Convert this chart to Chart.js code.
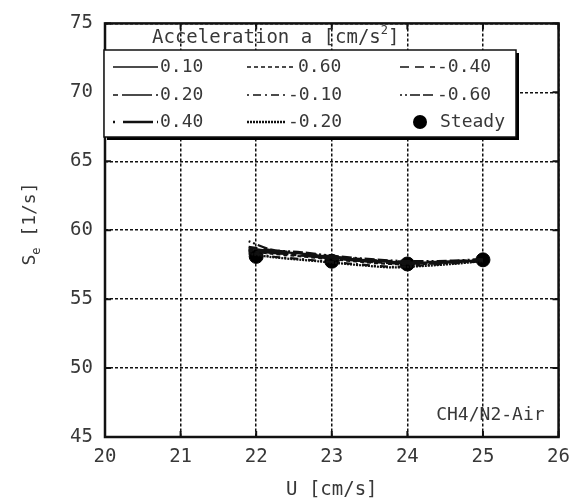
<!DOCTYPE html>
<html>
<head>
<meta charset="utf-8">
<script src="https://cdn.jsdelivr.net/npm/chart.js@4.4.1/dist/chart.umd.min.js"></script>
<style>
  html, body { margin: 0; padding: 0; background: #fff; }
  #wrap { width: 579px; height: 504px; }
</style>
</head>
<body>
<div id="wrap"><canvas id="seChart" width="579" height="504"></canvas></div>
<script>
// U [cm/s] sample points of the unsteady runs
var uValues = [21.9, 22.2, 22.6, 23.0, 23.4, 23.8, 24.2, 24.6, 25.0];

// Se [1/s] per acceleration (legend order, row by row)
var accelLabels = ["0.10", "0.60", "-0.40", "0.20", "-0.10", "-0.60", "0.40", "-0.20"];
var se_p010 = [58.7, 58.5, 58.3, 58.05, 57.85, 57.7, 57.65, 57.7, 57.85];
var se_p060 = [58.5, 58.3, 58.1, 57.9, 57.7, 57.55, 57.55, 57.65, 57.8];
var se_m040 = [58.8, 58.55, 58.35, 58.1, 57.9, 57.75, 57.7, 57.75, 57.9];
var se_p020 = [58.6, 58.4, 58.15, 57.95, 57.75, 57.6, 57.6, 57.7, 57.85];
var se_m010 = [58.4, 58.1, 57.9, 57.7, 57.5, 57.35, 57.45, 57.6, 57.75];
var se_m060 = [59.2, 58.6, 58.4, 58.15, 57.95, 57.8, 57.75, 57.8, 57.9];
var se_p040 = [58.55, 58.35, 58.2, 58.0, 57.8, 57.65, 57.6, 57.7, 57.85];
var se_m020 = [58.3, 58.05, 57.85, 57.65, 57.45, 57.3, 57.4, 57.55, 57.75];

// steady flames
var steadyU = [22, 23, 24, 25];
var steadySe = [58.1, 57.75, 57.55, 57.85];

var xTicks = [20, 21, 22, 23, 24, 25, 26];
var yTicks = [45, 50, 55, 60, 65, 70, 75];

var seriesValues = [se_p010, se_p060, se_m040, se_p020, se_m010, se_m060, se_p040, se_m020];
var dashes = [[], [4, 3], [9, 6], [5, 4, 30, 4], [2, 4, 8, 4], [2, 3, 2, 3, 10, 3, 10, 3], [2, 8, 30, 4], [2, 1]];
var widths = [1.5, 1.5, 1.5, 1.5, 1.5, 1.5, 2.5, 2.5];

var mono = "'DejaVu Sans Mono', monospace";
var ink = "#111";
var txt = "#383838";

var datasets = accelLabels.map(function (lab, i) {
  return {
    label: lab,
    data: uValues.map(function (u, j) { return { x: u, y: seriesValues[i][j] }; }),
    borderColor: ink,
    borderWidth: 2.2,
    borderDash: dashes[i],
    legendWidth: widths[i],
    pointRadius: 0,
    fill: false,
    tension: 0.3
  };
});
datasets.push({
  label: "Steady",
  data: steadyU.map(function (u, j) { return { x: u, y: steadySe[j] }; }),
  showLine: false,
  pointRadius: 7,
  pointBackgroundColor: "#000",
  pointBorderColor: "#000"
});

var decor = {
  id: "decor",
  beforeDatasetsDraw: function (chart) {
    // solid frame and inward tick marks
    var ctx = chart.ctx, a = chart.chartArea;
    var xs = chart.scales.x, ys = chart.scales.y;
    ctx.save();
    ctx.strokeStyle = ink;
    ctx.setLineDash([]);
    ctx.lineWidth = 2.5;
    ctx.strokeRect(a.left, a.top, a.right - a.left, a.bottom - a.top);
    ctx.lineWidth = 2;
    xTicks.forEach(function (v) {
      var px = xs.getPixelForValue(v);
      ctx.beginPath();
      ctx.moveTo(px, a.bottom); ctx.lineTo(px, a.bottom - 6);
      ctx.moveTo(px, a.top); ctx.lineTo(px, a.top + 6);
      ctx.stroke();
    });
    yTicks.forEach(function (v) {
      var py = ys.getPixelForValue(v);
      ctx.beginPath();
      ctx.moveTo(a.left, py); ctx.lineTo(a.left + 6, py);
      ctx.moveTo(a.right, py); ctx.lineTo(a.right - 6, py);
      ctx.stroke();
    });
    ctx.restore();
  },
  afterDraw: function (chart) {
    var ctx = chart.ctx, a = chart.chartArea;
    ctx.save();
    ctx.fillStyle = txt;
    ctx.textBaseline = "middle";

    // title above legend
    ctx.font = "19px " + mono;
    ctx.textAlign = "left";
    var t1 = "Acceleration a [cm/s";
    ctx.fillText(t1, 152, 38);
    var w1 = ctx.measureText(t1).width;
    ctx.font = "12px " + mono;
    ctx.fillText("2", 152 + w1, 31);
    var w2 = ctx.measureText("2").width;
    ctx.font = "19px " + mono;
    ctx.fillText("]", 152 + w1 + w2, 38);

    // legend box with shadow
    var bx = 104, by = 50, bw = 412, bh = 87;
    ctx.fillStyle = "#000";
    ctx.fillRect(bx + 3, by + 3, bw, bh);
    ctx.fillStyle = "#fff";
    ctx.fillRect(bx, by, bw, bh);
    ctx.strokeStyle = ink;
    ctx.lineWidth = 1.5;
    ctx.strokeRect(bx, by, bw, bh);

    var rowY = [67, 95, 122];
    var lineStart = [113, 247, 400];
    var textCol = [150, 288, 437];
    var charW = 10;
    ctx.font = "18px " + mono;
    chart.data.datasets.forEach(function (ds, i) {
      var r = Math.floor(i / 3), c = i % 3;
      var y = rowY[r];
      if (ds.label === "Steady") {
        ctx.fillStyle = "#000";
        ctx.beginPath();
        ctx.arc(420, y, 7, 0, Math.PI * 2);
        ctx.fill();
        ctx.fillStyle = txt;
        ctx.fillText(ds.label, 440, y);
        return;
      }
      var tx = textCol[c] + (ds.label.charAt(0) === "-" ? 0 : charW);
      ctx.strokeStyle = ink;
      ctx.lineWidth = ds.legendWidth;
      ctx.setLineDash(ds.borderDash);
      ctx.beginPath();
      ctx.moveTo(lineStart[c], y);
      ctx.lineTo(tx - 2, y);
      ctx.stroke();
      ctx.setLineDash([]);
      ctx.fillStyle = txt;
      ctx.fillText(ds.label, tx, y);
    });

    // mixture label
    ctx.font = "18px " + mono;
    ctx.textAlign = "right";
    ctx.fillStyle = txt;
    ctx.fillText("CH4/N2-Air", a.right - 14, 415);

    // axis titles
    ctx.font = "19px " + mono;
    ctx.textAlign = "center";
    ctx.fillText("U [cm/s]", (a.left + a.right) / 2, 490);

    ctx.translate(30, 224);
    ctx.rotate(-Math.PI / 2);
    ctx.font = "18px " + mono;
    ctx.textAlign = "left";
    var sW = ctx.measureText("S").width;
    ctx.font = "12px " + mono;
    var eW = ctx.measureText("e").width;
    ctx.font = "18px " + mono;
    var rest = " [1/s]";
    var rW = ctx.measureText(rest).width;
    var x0 = -(sW + eW + rW) / 2;
    ctx.fillText("S", x0, 0);
    ctx.font = "12px " + mono;
    ctx.fillText("e", x0 + sW, 7);
    ctx.font = "18px " + mono;
    ctx.fillText(rest, x0 + sW + eW, 0);
    ctx.restore();
  }
};

var ctx = document.getElementById("seChart").getContext("2d");
new Chart(ctx, {
  type: "line",
  data: { datasets: datasets },
  options: {
    responsive: false,
    animation: false,
    layout: { padding: { top: 18, right: 19, left: 0, bottom: 0 } },
    plugins: { legend: { display: false }, tooltip: { enabled: false } },
    scales: {
      x: {
        type: "linear",
        min: 20, max: 26,
        afterBuildTicks: function (s) { s.ticks = xTicks.map(function (v) { return { value: v }; }); },
        afterFit: function (s) { s.height = 67; },
        grid: { color: ink, lineWidth: 1.5, drawTicks: false },
        border: { display: false, dash: [3, 2] },
        ticks: { color: txt, padding: 9, font: { family: mono, size: 19 } }
      },
      y: {
        min: 45, max: 75,
        afterBuildTicks: function (s) { s.ticks = yTicks.map(function (v) { return { value: v }; }); },
        afterFit: function (s) { s.width = 105; },
        grid: { color: ink, lineWidth: 1.5, drawTicks: false },
        border: { display: false, dash: [3, 2] },
        ticks: { color: txt, padding: 12, font: { family: mono, size: 19 } }
      }
    }
  },
  plugins: [decor]
});
</script>
</body>
</html>
